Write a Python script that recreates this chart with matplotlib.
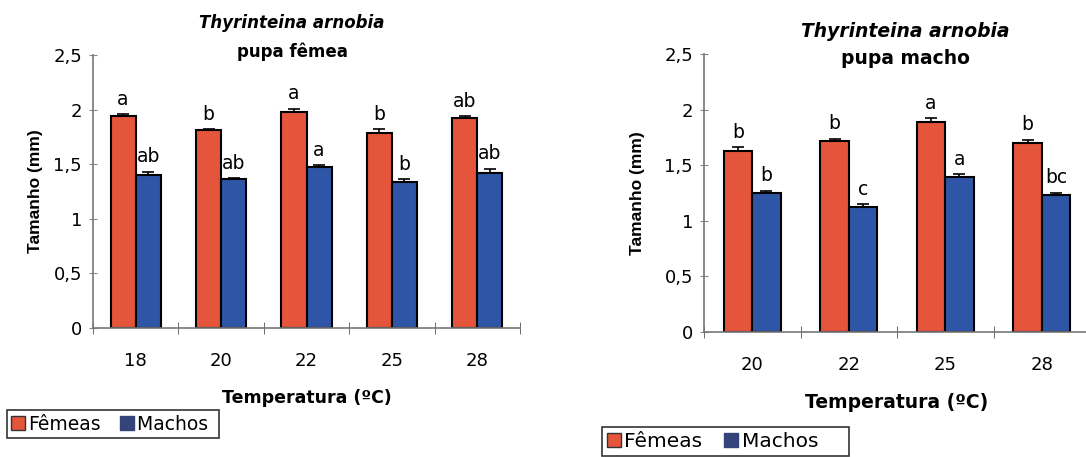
import numpy as np
import matplotlib
matplotlib.use("Agg")
import matplotlib.pyplot as plt
from matplotlib.lines import Line2D

plt.rcParams['font.family'] = ['DejaVu Sans']

# pupa femea
temp_f = ['18', '20', '22', '25', '28']
femeas_f = [1.94, 1.81, 1.98, 1.79, 1.92]
femeas_f_err = [0.02, 0.01, 0.03, 0.03, 0.02]
machos_f = [1.40, 1.36, 1.47, 1.34, 1.42]
machos_f_err = [0.03, 0.01, 0.02, 0.02, 0.04]
letras_femeas_f = ['a', 'b', 'a', 'b', 'ab']
letras_machos_f = ['ab', 'ab', 'a', 'b', 'ab']

# pupa macho
temp_m = ['20', '22', '25', '28']
femeas_m = [1.63, 1.72, 1.89, 1.70]
femeas_m_err = [0.03, 0.02, 0.03, 0.03]
machos_m = [1.25, 1.12, 1.39, 1.23]
machos_m_err = [0.02, 0.03, 0.03, 0.02]
letras_femeas_m = ['b', 'b', 'a', 'b']
letras_machos_m = ['b', 'c', 'a', 'bc']

RED = '#e4553b'
BLUE = '#2f55a6'
NAVY = '#34437a'


def painel(ax, temps, fem, fem_err, mac, mac_err, let_f, let_m, titulo,
           tx, ty, tsize, xsize, ypad):
    x = np.arange(len(temps))
    w = 0.295
    ax.bar(x - w / 2, fem, w, color=RED, edgecolor='black', linewidth=1.5,
           yerr=[np.zeros(len(fem)), fem_err], capsize=4,
           error_kw=dict(elinewidth=1.2, capthick=1.2, ecolor='black'))
    ax.bar(x + w / 2, mac, w, color=BLUE, edgecolor='black', linewidth=1.5,
           yerr=[np.zeros(len(mac)), mac_err], capsize=4,
           error_kw=dict(elinewidth=1.2, capthick=1.2, ecolor='black'))
    for i in range(len(temps)):
        ax.text(x[i] - w / 2, fem[i] + fem_err[i] + 0.05, let_f[i],
                ha='center', va='bottom', fontsize=13.5)
        ax.text(x[i] + w / 2, mac[i] + mac_err[i] + 0.05, let_m[i],
                ha='center', va='bottom', fontsize=13.5)
    ax.set_xlim(-0.5, len(temps) - 0.5)
    ax.set_ylim(0, 2.5)
    ax.set_yticks([0, 0.5, 1, 1.5, 2, 2.5])
    ax.set_yticklabels(['0', '0,5', '1', '1,5', '2', '2,5'], fontsize=13)
    ax.set_xticks(x)
    ax.set_xticklabels(temps, fontsize=13)
    ax.set_xticks(np.arange(len(temps) + 1) - 0.5, minor=True)
    ax.tick_params(axis='x', which='major', length=0, pad=17)
    ax.tick_params(axis='x', which='minor', length=9, direction='inout',
                   color='#555555')
    ax.tick_params(axis='y', length=6, direction='inout', color='#888888', pad=5)
    for s in ['top', 'right']:
        ax.spines[s].set_visible(False)
    for s in ['left', 'bottom']:
        ax.spines[s].set_color('#777777')
        ax.spines[s].set_linewidth(1.2)
    ax.set_ylabel('Tamanho (mm)', fontsize=12.5, fontweight='bold',
                  family='Liberation Sans', labelpad=ypad)
    ax.set_xlabel('Temperatura (ºC)', fontsize=xsize, fontweight='bold',
                  labelpad=14)
    ax.text(tx, ty[0], 'Thyrinteina arnobia', ha='center', va='center',
            fontsize=tsize, fontweight='bold', fontstyle='italic')
    ax.text(tx, ty[1], titulo, ha='center', va='center', fontsize=tsize,
            fontweight='bold')


fig = plt.figure(figsize=(10.86, 4.57), dpi=100)
ax1 = fig.add_axes([93 / 1086, 129 / 457, 427 / 1086, 273 / 457])
ax2 = fig.add_axes([704 / 1086, 125 / 457, 386 / 1086, 278 / 457])

painel(ax1, temp_f, femeas_f, femeas_f_err, machos_f, machos_f_err,
       letras_femeas_f, letras_machos_f, 'pupa fêmea',
       1.83, (2.79, 2.53), 12, 12.5, 7)
painel(ax2, temp_m, femeas_m, femeas_m_err, machos_m, machos_m_err,
       letras_femeas_m, letras_machos_m, 'pupa macho',
       1.59, (2.70, 2.46), 13.5, 13.5, 14)

handles = [Line2D([], [], marker='s', linestyle='', markersize=10,
                  markerfacecolor=RED, markeredgecolor='#333333'),
           Line2D([], [], marker='s', linestyle='', markersize=10,
                  markerfacecolor=NAVY, markeredgecolor=NAVY)]
for anchor, fs, rotulos in [((7 / 1086, 1 - 410 / 457), 13.5,
                             ['Fêmeas', 'Machos ']),
                            ((602 / 1086, 1 - 427 / 457), 14.5,
                             ['Fêmeas', 'Machos    '])]:
    leg = fig.legend(handles, rotulos, loc='upper left',
                     bbox_to_anchor=anchor, ncol=2, fontsize=fs,
                     fancybox=False, edgecolor='#333333', framealpha=1,
                     handlelength=0.7, handletextpad=0.15,
                     columnspacing=1.1, borderpad=0.25, borderaxespad=0)
    leg.get_frame().set_linewidth(1.2)

fig.savefig('out.png', dpi=100)
